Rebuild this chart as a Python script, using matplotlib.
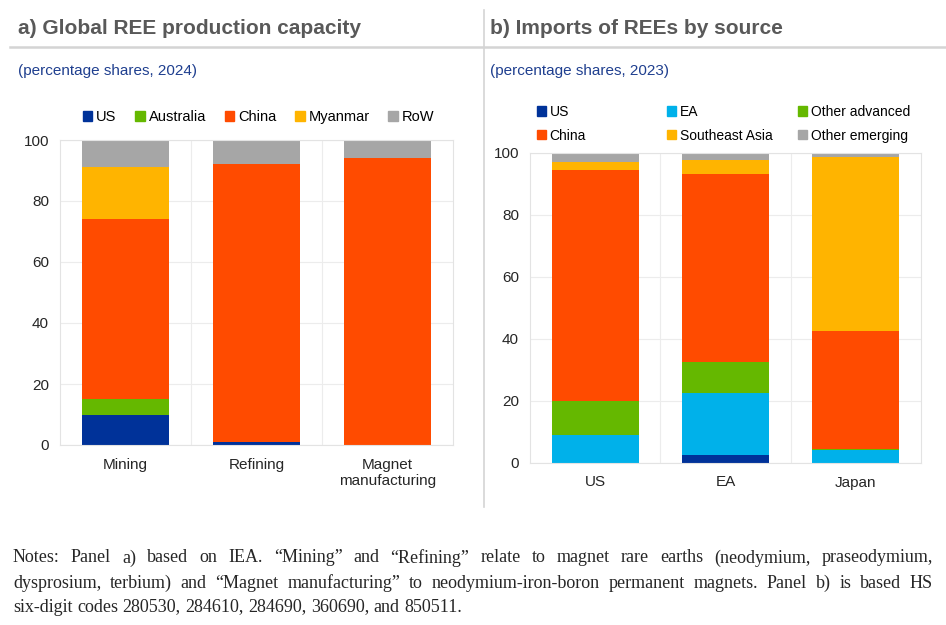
import numpy as np
import matplotlib
matplotlib.use("Agg")
from matplotlib import pyplot as plt
from matplotlib.patches import Patch
from matplotlib.lines import Line2D

# panel a) global REE production capacity, percentage shares 2024
stages = ["Mining", "Refining", "Magnet\nmanufacturing"]
a_series = ["US", "Australia", "China", "Myanmar", "RoW"]
a_us = [10, 1, 0]
a_australia = [5, 0, 0]
a_china = [59, 91, 94]
a_myanmar = [17, 0, 0]
a_row = [9, 8, 6]

# panel b) imports of REEs by source, percentage shares 2023
importers = ["US", "EA", "Japan"]
b_series = ["US", "EA", "Other advanced", "China", "Southeast Asia", "Other emerging"]
b_us = [0, 2.5, 0]
b_ea = [9.1, 20.0, 4.1]
b_other_adv = [11.0, 10.1, 0.3]
b_china = [74.4, 60.6, 38.3]
b_sea = [2.6, 4.4, 56.1]
b_other_em = [2.9, 2.4, 1.2]

c_us = "#003299"
c_ea = "#00B1EA"
c_green = "#65B800"
c_china = "#FF4B00"
c_yellow = "#FFB400"
c_grey = "#A6A6A6"

W, H = 946, 625
plt.rcParams["font.family"] = ["Liberation Sans", "DejaVu Sans"]
fig = plt.figure(figsize=(W / 100, H / 100), dpi=100)


def px_axes(x0, y0, x1, y1):
    return fig.add_axes([x0 / W, 1 - y1 / H, (x1 - x0) / W, (y1 - y0) / H])


def style(ax, labels):
    ax.set_xlim(-0.5, len(labels) - 0.5)
    ax.set_ylim(0, 100)
    ax.set_yticks(range(0, 101, 20))
    ax.set_xticks(range(len(labels)))
    ax.set_xticklabels(labels, fontsize=11, color="#262626", linespacing=1.25)
    ax.tick_params(axis="y", labelsize=11, labelcolor="#262626", length=0, pad=8)
    ax.tick_params(axis="x", length=0, pad=9)
    ax.set_axisbelow(True)
    ax.grid(axis="y", color="#ececec", linewidth=0.8)
    for xv in np.arange(0.5, len(labels) - 0.5, 1):
        ax.axvline(xv, color="#ececec", linewidth=0.8, zorder=0)
    for s in ax.spines.values():
        s.set_color("#e3e3e3")
        s.set_linewidth(0.8)


def stack(ax, series, colors):
    bottom = np.zeros(len(series[0]))
    x = np.arange(len(series[0]))
    for vals, col in zip(series, colors):
        ax.bar(x, vals, bottom=bottom, width=0.67, color=col, linewidth=0)
        bottom += np.array(vals)


# panel a
ax1 = px_axes(60, 140, 453, 445)
stack(ax1, [a_us, a_australia, a_china, a_myanmar, a_row],
      [c_us, c_green, c_china, c_yellow, c_grey])
style(ax1, stages)

h_a = [Patch(color=c) for c in [c_us, c_green, c_china, c_yellow, c_grey]]
fig.legend(h_a, a_series, loc="center left", bbox_to_anchor=(83 / W, 1 - 117 / H),
           ncol=5, frameon=False, fontsize=10.5, handlelength=0.65, handleheight=0.65,
           handletextpad=0.25, columnspacing=1.3, borderaxespad=0, borderpad=0)

# panel b
ax2 = px_axes(530, 153, 921, 463)
stack(ax2, [b_us, b_ea, b_other_adv, b_china, b_sea, b_other_em],
      [c_us, c_ea, c_green, c_china, c_yellow, c_grey])
style(ax2, importers)

b_cols = [c_us, c_ea, c_green, c_china, c_yellow, c_grey]
for i, xl in enumerate([537, 667, 798]):
    hs = [Patch(color=b_cols[i]), Patch(color=b_cols[i + 3])]
    fig.legend(hs, [b_series[i], b_series[i + 3]], loc="upper left",
               bbox_to_anchor=(xl / W, 1 - 105 / H), frameon=False, fontsize=10,
               handlelength=0.65, handleheight=0.65, handletextpad=0.25,
               labelspacing=0.7, borderaxespad=0, borderpad=0)

# titles and separators
fig.text(18 / W, 1 - 28 / H, "a) Global REE production capacity", fontsize=15,
         fontweight="bold", color="#595959", va="center")
fig.text(490 / W, 1 - 28 / H, "b) Imports of REEs by source", fontsize=15,
         fontweight="bold", color="#595959", va="center")
fig.text(18 / W, 1 - 71 / H, "(percentage shares, 2024)", fontsize=11,
         color="#1F3F8F", va="center")
fig.text(490 / W, 1 - 71 / H, "(percentage shares, 2023)", fontsize=11,
         color="#1F3F8F", va="center")
fig.add_artist(Line2D([10 / W, 1], [1 - 47 / H, 1 - 47 / H], color="#d4d4d4", linewidth=1.8))
fig.add_artist(Line2D([484 / W, 484 / W], [1 - 10 / H, 1 - 507 / H], color="#d4d4d4", linewidth=1.2))

# notes, justified
notes = [
    "Notes: Panel a) based on IEA. \u201cMining\u201d and \u201cRefining\u201d relate to magnet rare earths (neodymium, praseodymium,",
    "dysprosium, terbium) and \u201cMagnet manufacturing\u201d to neodymium-iron-boron permanent magnets. Panel b) is based HS",
    "six-digit codes 280530, 284610, 284690, 360690, and 850511.",
]
note_kw = dict(fontsize=13, color="#262626", family=["Liberation Serif", "DejaVu Serif"])
rend = fig.canvas.get_renderer()


def word_widths(words):
    out = []
    for w in words:
        t = fig.text(0, 0, w, **note_kw)
        out.append(t.get_window_extent(rend).width)
        t.remove()
    return out


space = word_widths(["a b"])[0] - sum(word_widths(["a", "b"]))
for k, (line, y) in enumerate(zip(notes, [558, 583, 607])):
    words = line.split(" ")
    ws = word_widths(words)
    if k < len(notes) - 1:
        gap = max((933 - 13 - sum(ws)) / (len(words) - 1), 2)
    else:
        gap = space
    x = 13
    for w, wd in zip(words, ws):
        fig.text(x / W, 1 - y / H, w, va="center", ha="left", **note_kw)
        x += wd + gap

fig.savefig("out.png", dpi=100, facecolor="white")
